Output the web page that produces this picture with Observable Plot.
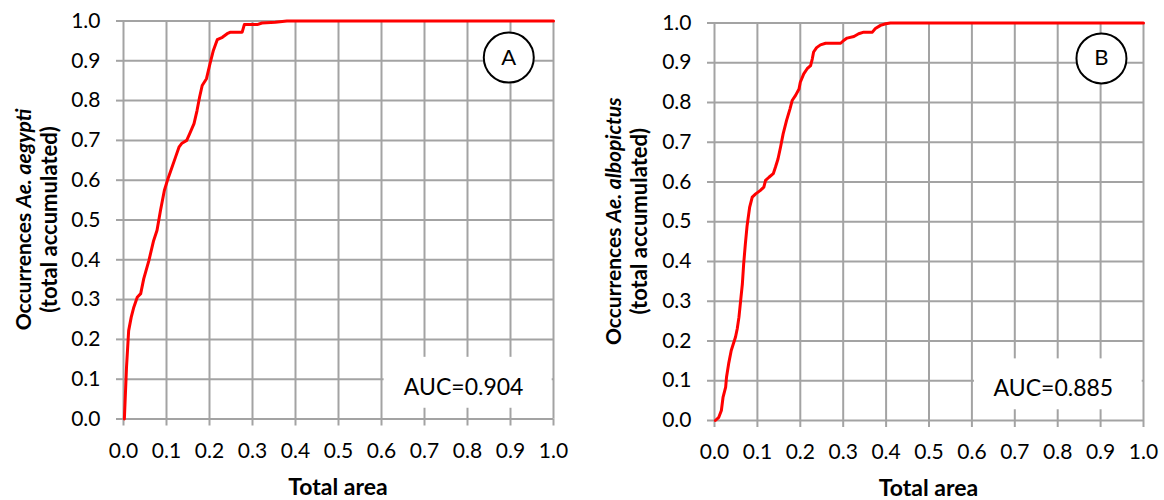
<!DOCTYPE html>
<html><head><meta charset="utf-8">
<script src="https://cdn.jsdelivr.net/npm/d3@7"></script>
<script src="https://cdn.jsdelivr.net/npm/@observablehq/plot@0.6"></script>
<style>
body{margin:0;background:#fff;}
#wrap{position:relative;width:1164px;height:500px;overflow:hidden;font-family:Lato,"Open Sans",sans-serif;}
.panel{position:absolute;top:0;}
#wrap g[aria-label$="tick label"], #wrap g[aria-label$="tick label"] text {font-size:21px !important; font-family:Lato,"Open Sans",sans-serif !important;}
</style></head><body><div id="wrap"></div>
<script>
const ticks = [0, 0.1, 0.2, 0.3, 0.4, 0.5, 0.6, 0.7, 0.8, 0.9, 1.0];
const tickLabels = ["0.0","0.1","0.2","0.3","0.4","0.5","0.6","0.7","0.8","0.9","1.0"];

const aegyptiX = [0.002, 0.007, 0.012, 0.018, 0.024, 0.032, 0.040, 0.047, 0.059, 0.070, 0.078, 0.086, 0.095, 0.102, 0.113, 0.121, 0.129, 0.136, 0.147, 0.154, 0.164, 0.171, 0.177, 0.183, 0.193, 0.201, 0.209, 0.218, 0.230, 0.241, 0.249, 0.276, 0.281, 0.311, 0.322, 0.353, 0.38, 1.0];
const aegyptiY = [0, 0.13, 0.222, 0.256, 0.281, 0.306, 0.315, 0.352, 0.398, 0.448, 0.474, 0.524, 0.574, 0.599, 0.633, 0.658, 0.683, 0.693, 0.700, 0.717, 0.742, 0.775, 0.809, 0.838, 0.855, 0.892, 0.926, 0.953, 0.959, 0.968, 0.972, 0.972, 0.991, 0.991, 0.995, 0.997, 1.0, 1.0];

const albopictusX = [0.002, 0.01, 0.016, 0.020, 0.026, 0.028, 0.033, 0.039, 0.044, 0.049, 0.053, 0.057, 0.061, 0.065, 0.068, 0.072, 0.076, 0.082, 0.088, 0.096, 0.107, 0.115, 0.119, 0.127, 0.137, 0.142, 0.148, 0.154, 0.160, 0.168, 0.176, 0.181, 0.189, 0.197, 0.200, 0.208, 0.216, 0.224, 0.228, 0.231, 0.238, 0.247, 0.259, 0.294, 0.301, 0.309, 0.325, 0.336, 0.348, 0.368, 0.375, 0.387, 0.399, 0.41, 1.0];
const albopictusY = [0, 0.008, 0.025, 0.059, 0.084, 0.109, 0.143, 0.176, 0.193, 0.210, 0.231, 0.260, 0.302, 0.344, 0.394, 0.445, 0.490, 0.537, 0.562, 0.570, 0.579, 0.587, 0.604, 0.612, 0.621, 0.637, 0.658, 0.688, 0.721, 0.755, 0.784, 0.805, 0.818, 0.834, 0.851, 0.872, 0.885, 0.893, 0.910, 0.927, 0.938, 0.945, 0.949, 0.949, 0.956, 0.962, 0.966, 0.973, 0.977, 0.977, 0.986, 0.994, 0.998, 1.0, 1.0];

const panelLetters = ["A", "B"];
const aucLabels = ["AUC=0.904", "AUC=0.885"];
const speciesNames = ["Ae. aegypti", "Ae. albopictus"];
const xLabel = "Total area";
const yLabelPrefix = "Occurrences ";
const yLabelLine2 = "(total accumulated)";

// layout (positions / sizes / styles)
const layouts = [
  {left: 0, width: 591, mr: 38, mt: 20.5, ph: 398, lx1: 22, lx2: 48, xlY: 486},
  {left: 591, width: 573, mr: 21, mt: 22.5, ph: 397.5, lx1: 21, lx2: 47, xlY: 487}
];
const circlePos = [{x: 0.896, y: 0.908}, {x: 0.902, y: 0.911}];
const aucBox = {x1: 0.606, x2: 0.997, y1: 0.027, y2: 0.155};
const aucTextPos = [{x: 0.791, y: 0.079}, {x: 0.790, y: 0.080}];
const gridColor = "#a3a3a3";
const fontFamily = "Lato, 'Open Sans', sans-serif";

const series = [[aegyptiX, aegyptiY], [albopictusX, albopictusY]];
const wrap = document.getElementById("wrap");

series.forEach(([xs, ys], k) => {
  const L = layouts[k];
  const data = xs.map((x, i) => ({x, y: ys[i]}));
  const plot = Plot.plot({
    width: L.width,
    height: 500,
    marginLeft: 123,
    marginRight: L.mr,
    marginTop: L.mt,
    marginBottom: 500 - L.mt - L.ph,
    x: {domain: [0, 1]},
    y: {domain: [0, 1]},
    style: {fontFamily, fontSize: "21px", color: "#000", background: "transparent", overflow: "visible"},
    marks: [
      Plot.gridX(ticks, {stroke: gridColor, strokeOpacity: 1, strokeWidth: 2}),
      Plot.gridY(ticks, {stroke: gridColor, strokeOpacity: 1, strokeWidth: 2}),
      Plot.axisX(ticks, {tickSize: 7, tickPadding: 17, stroke: gridColor, strokeWidth: 2, fill: "#000", fontSize: 21,
        tickFormat: d => tickLabels[ticks.indexOf(d)], label: null}),
      Plot.axisY(ticks, {tickSize: 7, tickPadding: 16, stroke: gridColor, strokeWidth: 2, fill: "#000", fontSize: 21,
        tickFormat: d => tickLabels[ticks.indexOf(d)], label: null}),
      Plot.rect([aucBox], {x1: "x1", x2: "x2", y1: "y1", y2: "y2", fill: "white"}),
      Plot.text([aucLabels[k]], {x: aucTextPos[k].x, y: aucTextPos[k].y, text: d => d, fontSize: 23, fill: "#000", textAnchor: "middle"}),
      Plot.dot([circlePos[k]], {x: "x", y: "y", r: 25, fill: "white", stroke: "#000", strokeWidth: 2}),
      Plot.text([panelLetters[k]], {x: circlePos[k].x, y: circlePos[k].y, text: d => d, fontSize: 22, fill: "#000"}),
      Plot.line(data, {x: "x", y: "y", stroke: "#ff0000", strokeWidth: 3, strokeLinejoin: "round"})
    ]
  });
  const div = document.createElement("div");
  div.className = "panel";
  div.style.left = L.left + "px";
  div.appendChild(plot);
  wrap.appendChild(div);

  const svg = d3.select(plot);
  const cy = L.mt + L.ph / 2;
  const cx = 123 + (L.width - 123 - L.mr) / 2;
  const t1 = svg.append("text")
    .attr("transform", `translate(${L.lx1},${cy}) rotate(-90)`)
    .attr("text-anchor", "middle").attr("dominant-baseline", "central")
    .attr("font-weight", "bold").attr("font-size", 21).attr("font-family", fontFamily).attr("fill", "#000");
  t1.append("tspan").text(yLabelPrefix);
  t1.append("tspan").attr("font-style", "italic").text(speciesNames[k]);
  svg.append("text")
    .attr("transform", `translate(${L.lx2},${cy}) rotate(-90)`)
    .attr("text-anchor", "middle").attr("dominant-baseline", "central")
    .attr("font-weight", "bold").attr("font-size", 22).attr("font-family", fontFamily).attr("fill", "#000")
    .text(yLabelLine2);
  svg.append("text")
    .attr("x", cx).attr("y", L.xlY)
    .attr("text-anchor", "middle").attr("dominant-baseline", "central")
    .attr("font-weight", "bold").attr("font-size", 23).attr("font-family", fontFamily).attr("fill", "#000")
    .text(xLabel);
});
</script></body></html>
